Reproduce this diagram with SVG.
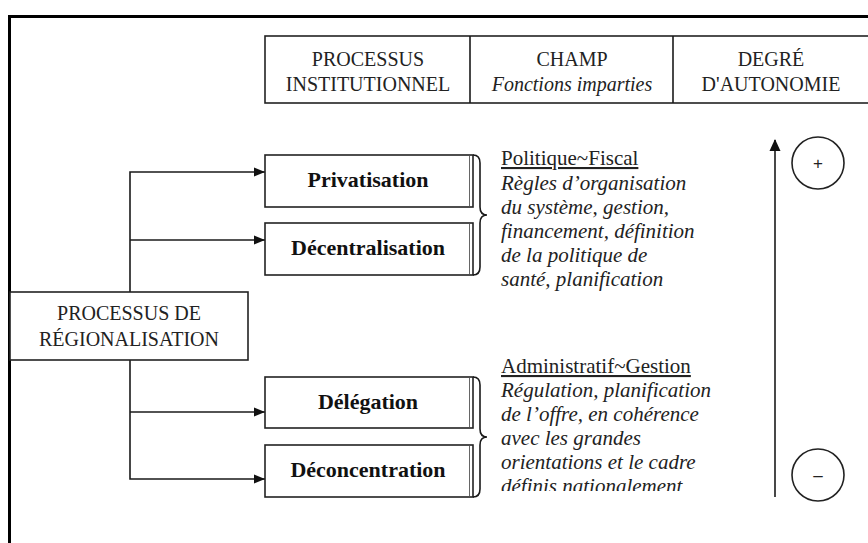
<svg xmlns="http://www.w3.org/2000/svg" width="868" height="543" viewBox="0 0 868 543">
<style>
  .ln{stroke:#1a1a1a;fill:none;stroke-width:1.6}
  .sh{stroke:#666;fill:none;stroke-width:1}
  .box{stroke:#222;fill:#fff;stroke-width:1.6}
  .cap{font-family:"Liberation Serif",serif;font-size:20px;fill:#222;text-anchor:middle}
  .bold{font-family:"Liberation Serif",serif;font-size:22px;font-weight:bold;fill:#111;text-anchor:middle}
  .hd{font-family:"Liberation Serif",serif;font-size:21px;fill:#222;text-decoration:underline}
  .it{font-family:"Liberation Serif",serif;font-size:21px;font-style:italic;fill:#222}
</style>
<defs>
  <marker id="ah" viewBox="0 0 11 10" refX="11" refY="5" markerWidth="11" markerHeight="10" markerUnits="userSpaceOnUse" orient="auto">
    <path d="M0,0.5 L11,5 L0,9.5 Z" fill="#111"/>
  </marker>
  <marker id="ahUp" viewBox="0 0 12 12" refX="11" refY="6" markerWidth="12" markerHeight="12" markerUnits="userSpaceOnUse" orient="auto">
    <path d="M0,0.5 L12,6 L0,11.5 Z" fill="#111"/>
  </marker>
  <clipPath id="clipB"><rect x="490" y="340" width="240" height="151"/></clipPath>
</defs>
<rect width="868" height="543" fill="#fff"/>

<!-- frame -->
<g id="frame">
  <line x1="8" y1="16.5" x2="868" y2="16.5" stroke="#000" stroke-width="3"/>
  <line x1="9.5" y1="15" x2="9.5" y2="543" stroke="#000" stroke-width="3"/>
</g>

<!-- header table -->
<g id="header">
  <rect x="265" y="36" width="610" height="67" class="box" stroke-width="2"/>
  <line x1="470" y1="36" x2="470" y2="103" class="ln" stroke-width="2"/>
  <line x1="673" y1="36" x2="673" y2="103" class="ln" stroke-width="2"/>
  <text class="cap" x="368" y="66">PROCESSUS</text>
  <text class="cap" x="368" y="91">INSTITUTIONNEL</text>
  <text class="cap" x="572" y="66">CHAMP</text>
  <text class="cap" x="572" y="91" font-style="italic">Fonctions imparties</text>
  <text class="cap" x="771" y="66">DEGRÉ</text>
  <text class="cap" x="771" y="91">D'AUTONOMIE</text>
</g>

<!-- connectors -->
<g id="connectors">
  <path class="ln" d="M130,292 L130,172 L265,172" marker-end="url(#ah)"/>
  <path class="ln" d="M130,240 L265,240" marker-end="url(#ah)"/>
  <path class="ln" d="M130,360 L130,479 L265,479" marker-end="url(#ah)"/>
  <path class="ln" d="M130,412 L265,412" marker-end="url(#ah)"/>
</g>

<g id="regionalisation">
  <rect x="10" y="292" width="238" height="68" class="box"/>
  <text class="cap" x="129" y="320" font-size="21">PROCESSUS DE</text>
  <text class="cap" x="129" y="346" font-size="21">RÉGIONALISATION</text>
</g>

<g id="privatisation">
  <rect x="265" y="155" width="208" height="52" class="box"/>
  <line x1="469.5" y1="156" x2="469.5" y2="206" class="sh"/>
  <text class="bold" x="368" y="187">Privatisation</text>
</g>
<g id="decentralisation">
  <rect x="265" y="223" width="208" height="52" class="box"/>
  <line x1="469.5" y1="224" x2="469.5" y2="274" class="sh"/>
  <text class="bold" x="368" y="255">Décentralisation</text>
</g>
<g id="delegation">
  <rect x="265" y="377" width="208" height="51" class="box"/>
  <line x1="469.5" y1="378" x2="469.5" y2="427" class="sh"/>
  <text class="bold" x="368" y="409">Délégation</text>
</g>
<g id="deconcentration">
  <rect x="265" y="445" width="208" height="52" class="box"/>
  <line x1="469.5" y1="446" x2="469.5" y2="496" class="sh"/>
  <text class="bold" x="368" y="477">Déconcentration</text>
</g>

<!-- braces -->
<g id="braces">
  <path class="ln" stroke-width="1.4" d="M473,155 Q480,155 480,163 L480,207 Q480,215 487,215 Q480,215 480,223 L480,267 Q480,275 473,275"/>
  <path class="ln" stroke-width="1.4" d="M473,377 Q480,377 480,385 L480,429 Q480,437 487,437 Q480,437 480,445 L480,489 Q480,497 473,497"/>
</g>

<g id="champ-politique">
  <text class="hd" x="501" y="165">Politique~Fiscal</text>
  <text class="it" x="501" y="190">Règles d’organisation</text>
  <text class="it" x="501" y="214">du système, gestion,</text>
  <text class="it" x="501" y="238">financement, définition</text>
  <text class="it" x="501" y="262">de la politique de</text>
  <text class="it" x="501" y="286">santé, planification</text>
</g>

<g id="champ-administratif" clip-path="url(#clipB)">
  <text class="hd" x="501" y="373">Administratif~Gestion</text>
  <text class="it" x="501" y="397">Régulation, planification</text>
  <text class="it" x="501" y="421">de l’offre, en cohérence</text>
  <text class="it" x="501" y="445">avec les grandes</text>
  <text class="it" x="501" y="469">orientations et le cadre</text>
  <text class="it" x="501" y="493">définis nationalement</text>
</g>

<g id="autonomie">
  <line x1="775" y1="497" x2="775" y2="140" class="ln" stroke-width="2" marker-end="url(#ahUp)"/>
  <circle cx="818" cy="163" r="26" class="box" stroke-width="1.3"/>
  <text x="818" y="169" font-family="Liberation Sans, sans-serif" font-size="17" text-anchor="middle" fill="#222">+</text>
  <circle cx="818" cy="475" r="26" class="box" stroke-width="1.3"/>
  <text x="818" y="481" font-family="Liberation Sans, sans-serif" font-size="17" text-anchor="middle" fill="#222">–</text>
</g>
</svg>
